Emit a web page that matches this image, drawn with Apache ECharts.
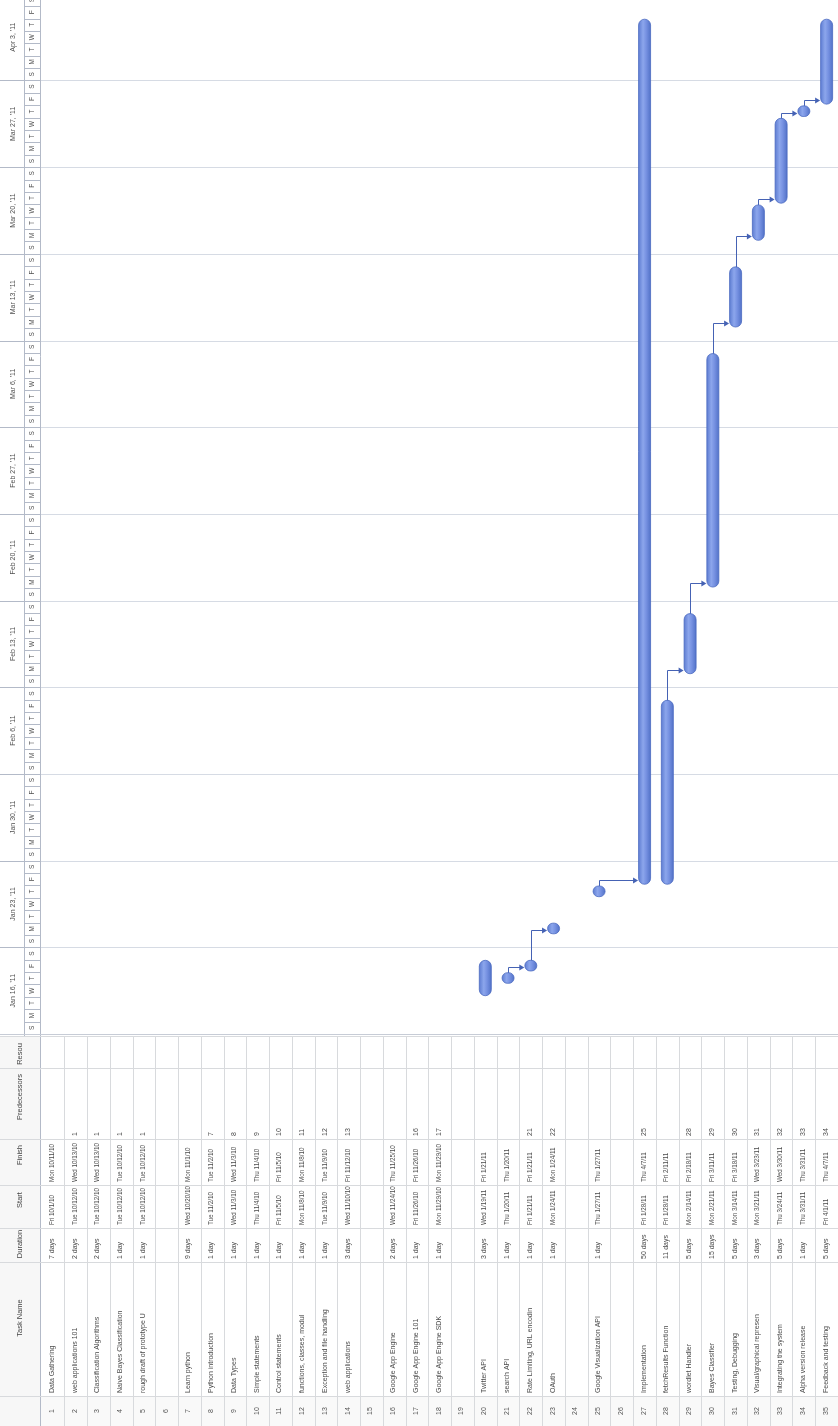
<!DOCTYPE html>
<html>
<head>
<meta charset="utf-8">
<script src="https://cdn.jsdelivr.net/npm/echarts@6/dist/echarts.min.js"></script>
<style>
  html, body { margin: 0; padding: 0; background: #ffffff; }
  #chart { width: 838px; height: 1426px; }
</style>
</head>
<body>
<div id="chart"></div>
<script>
// ---- Project schedule (one entry per task row) ----
const taskIds = [1,2,3,4,5,6,7,8,9,10,11,12,13,14,15,16,17,18,19,20,21,22,23,24,25,26,27,28,29,30,31,32,33,34,35];
const taskNames = [
  'Data Gathering', 'web applications 101', 'Classification Algorithms', 'Naive Bayes Classification', 'rough draft of prototype U', '',
  'Learn python', 'Python introduction', 'Data Types', 'Simple statements', 'Control statements', 'functions, classes, modul', 'Exception and file handling', 'web applications', '',
  'Google App Engine', 'Google App Engine 101', 'Google App Engine SDK', '',
  'Twitter API', 'search API', 'Rate Limiting, URL encodin', 'OAuth', '',
  'Google Visualization API', '',
  'Implementation', 'fetchResults Function', 'wordlet Handler', 'Bayes Classifier', 'Testing, Debugging', 'Visual/graphical represen', 'Integrating the system', 'Alpha version release', 'Feedback and testing'
];
const durations = [
  '7 days', '2 days', '2 days', '1 day', '1 day', '',
  '9 days', '1 day', '1 day', '1 day', '1 day', '1 day', '1 day', '3 days', '',
  '2 days', '1 day', '1 day', '',
  '3 days', '1 day', '1 day', '1 day', '',
  '1 day', '',
  '50 days', '11 days', '5 days', '15 days', '5 days', '3 days', '5 days', '1 day', '5 days'
];
const starts = [
  'Fri 10/1/10', 'Tue 10/12/10', 'Tue 10/12/10', 'Tue 10/12/10', 'Tue 10/12/10', '',
  'Wed 10/20/10', 'Tue 11/2/10', 'Wed 11/3/10', 'Thu 11/4/10', 'Fri 11/5/10', 'Mon 11/8/10', 'Tue 11/9/10', 'Wed 11/10/10', '',
  'Wed 11/24/10', 'Fri 11/26/10', 'Mon 11/29/10', '',
  'Wed 1/19/11', 'Thu 1/20/11', 'Fri 1/21/11', 'Mon 1/24/11', '',
  'Thu 1/27/11', '',
  'Fri 1/28/11', 'Fri 1/28/11', 'Mon 2/14/11', 'Mon 2/21/11', 'Mon 3/14/11', 'Mon 3/21/11', 'Thu 3/24/11', 'Thu 3/31/11', 'Fri 4/1/11'
];
const finishes = [
  'Mon 10/11/10', 'Wed 10/13/10', 'Wed 10/13/10', 'Tue 10/12/10', 'Tue 10/12/10', '',
  'Mon 11/1/10', 'Tue 11/2/10', 'Wed 11/3/10', 'Thu 11/4/10', 'Fri 11/5/10', 'Mon 11/8/10', 'Tue 11/9/10', 'Fri 11/12/10', '',
  'Thu 11/25/10', 'Fri 11/26/10', 'Mon 11/29/10', '',
  'Fri 1/21/11', 'Thu 1/20/11', 'Fri 1/21/11', 'Mon 1/24/11', '',
  'Thu 1/27/11', '',
  'Thu 4/7/11', 'Fri 2/11/11', 'Fri 2/18/11', 'Fri 3/11/11', 'Fri 3/18/11', 'Wed 3/23/11', 'Wed 3/30/11', 'Thu 3/31/11', 'Thu 4/7/11'
];
const predecessors = [
  '', '1', '1', '1', '1', '',
  '', '7', '8', '9', '10', '11', '12', '13', '',
  '', '16', '17', '',
  '', '', '21', '22', '',
  '', '',
  '25', '', '28', '29', '30', '31', '32', '33', '34'
];

// ---- Timescale ----
const weekLabels = ["Jan 16, '11", "Jan 23, '11", "Jan 30, '11", "Feb 6, '11", "Feb 13, '11", "Feb 20, '11",
                    "Feb 27, '11", "Mar 6, '11", "Mar 13, '11", "Mar 20, '11", "Mar 27, '11", "Apr 3, '11"];
const dayLetters = ['S', 'M', 'T', 'W', 'T', 'F', 'S'];
const columnHeaders = ['Task Name', 'Duration', 'Start', 'Finish', 'Predecessors', 'Resou'];

// ---- Layout ----
const FONT = '"Liberation Sans", Arial, sans-serif';
const TEXT = '#4a4a4a';
const LINE = '#d8dadd';
const HEADER_W = 40;          // header strip (timescale tiers / column titles)
const TIER_SPLIT = 24;        // boundary between week tier and day tier
const TABLE_TOP = 1036;
const TABLE_BOTTOM = 1426;
const CELL_FONT = 7;
const DATE_SQUEEZE = 0.9;     // dates are set slightly narrower so they fit their cells
// table columns along the page height: [top, bottom, title centre]
const COLS = {
  resource: [1036, 1068, 1054],
  pred:     [1068, 1139, 1097],
  finish:   [1139, 1185, 1155],
  start:    [1185, 1228, 1200],
  duration: [1228, 1262, 1244],
  name:     [1262, 1396, 1318],
  id:       [1396, 1426, 1411]
};

const DAY_MS = 86400000;
const ORIGIN = Date.UTC(2011, 0, 16);           // Sunday of the first visible week
const WORK_START = 8 / 24, WORK_END = 17 / 24;  // working day 8:00 - 17:00

function dayOffset(label) {
  const p = label.split(' ')[1].split('/');
  return (Date.UTC(2000 + Number(p[2]), Number(p[0]) - 1, Number(p[1])) - ORIGIN) / DAY_MS;
}

// bars: [row, startDay, finishDay]
const barData = [];
taskIds.forEach((id, i) => {
  if (!starts[i]) return;
  const s = dayOffset(starts[i]) + WORK_START;
  const f = dayOffset(finishes[i]) + WORK_END;
  if (s < 0) return;
  barData.push([id, s, f]);
});

// finish-to-start links: [predRow, predFinish, succRow, succStart]
const linkData = [];
predecessors.forEach((p, i) => {
  if (!p) return;
  const j = Number(p) - 1;
  if (dayOffset(starts[j]) < 0) return;
  linkData.push([taskIds[j], dayOffset(finishes[j]) + WORK_END, taskIds[i], dayOffset(starts[i]) + WORK_START]);
});

function vtext(x, y, str, align, size, color, squeeze) {
  return {
    type: 'text', x: x, y: y, rotation: Math.PI / 2, scaleX: squeeze || 1,
    style: { text: str, x: 0, y: 0, align: align, verticalAlign: 'middle',
             fontSize: size, fontFamily: FONT, fill: color || TEXT }
  };
}
function hline(x1, x2, y, color, w) {
  return { type: 'line', shape: { x1: x1, y1: y, x2: x2, y2: y }, style: { stroke: color || LINE, lineWidth: w || 1 } };
}
function vline(x, y1, y2, color, w) {
  return { type: 'line', shape: { x1: x, y1: y1, x2: x, y2: y2 }, style: { stroke: color || LINE, lineWidth: w || 1 } };
}

const chart = echarts.init(document.getElementById('chart'), null, { renderer: 'canvas' });

const BAR_FILL = {
  type: 'linear', x: 0, y: 0, x2: 1, y2: 0,
  colorStops: [
    { offset: 0, color: '#5b7ad0' },
    { offset: 0.38, color: '#8ca6ec' },
    { offset: 0.62, color: '#7792e2' },
    { offset: 1, color: '#5070c6' }
  ]
};

chart.setOption({
  animation: false,
  backgroundColor: '#ffffff',
  grid: { left: 41.6, top: 0, width: 799.75, height: 1034 },
  xAxis: { type: 'value', min: 0.5, max: 35.5, show: false },
  yAxis: { type: 'value', min: 0, max: 83.5, show: false },
  series: [
    // week grid lines across the chart area
    {
      type: 'custom', name: 'weekLines', z: 1, silent: true,
      data: weekLabels.map((w, k) => [k]),
      renderItem: function (params, api) {
        const y = Math.round(api.coord([1, api.value(0) * 7])[1]) + 0.5;
        return hline(HEADER_W, 838, y, '#d6dbe4', 1);
      }
    },
    // timescale header: week tier and day tier
    {
      type: 'custom', name: 'timescale', z: 2, silent: true,
      data: weekLabels.map((w, k) => [k]),
      renderItem: function (params, api) {
        const k = api.value(0);
        const y0 = api.coord([1, k * 7])[1];
        const y1 = api.coord([1, k * 7 + 7])[1];
        const children = [
          hline(0, HEADER_W, Math.round(y0) + 0.5, '#b3bac8', 1),
          vtext(TIER_SPLIT / 2 + 1, (y0 + y1) / 2, weekLabels[k], 'center', 7, '#505050')
        ];
        for (let d = 0; d < 7; d++) {
          const a = api.coord([1, k * 7 + d])[1];
          const b = api.coord([1, k * 7 + d + 1])[1];
          if (d > 0) children.push(hline(TIER_SPLIT, HEADER_W, Math.round(a) + 0.5, '#b3bac8', 1));
          children.push(vtext((TIER_SPLIT + HEADER_W) / 2 + 0.5, (a + b) / 2, dayLetters[d], 'center', 6.5, '#505050'));
        }
        return { type: 'group', children: children };
      }
    },
    // header strip and table frame
    {
      type: 'custom', name: 'frame', z: 3, silent: true,
      data: [[0]],
      renderItem: function (params, api) {
        const top = api.coord([1, 83.5])[1];
        const children = [
          { type: 'rect', shape: { x: 0, y: TABLE_TOP, width: HEADER_W, height: TABLE_BOTTOM - TABLE_TOP }, style: { fill: '#f7f7f7' } },
          { type: 'rect', shape: { x: HEADER_W, y: COLS.id[0], width: 838 - HEADER_W, height: COLS.id[1] - COLS.id[0] }, style: { fill: '#f9f9f9' } },
          vline(TIER_SPLIT + 0.5, top, TABLE_TOP, '#b3bac8', 1),
          vline(HEADER_W + 0.5, top, TABLE_BOTTOM, '#b3bac8', 1)
        ];
        const order = ['name', 'duration', 'start', 'finish', 'pred', 'resource'];
        order.forEach((key, i) => {
          children.push(vtext(HEADER_W / 2, COLS[key][2], columnHeaders[i], 'center', 7.5, '#454545'));
        });
        Object.keys(COLS).forEach(key => {
          children.push(hline(0, 838, COLS[key][0] + 0.5, LINE, 1));
        });
        children.push(hline(0, 838, TABLE_TOP - 1.5, '#c7ccd6', 1));
        return { type: 'group', children: children };
      }
    },
    // table rows
    {
      type: 'custom', name: 'table', z: 4, silent: true,
      data: taskIds.map(id => [id]),
      renderItem: function (params, api) {
        const row = api.value(0);
        const i = row - 1;
        const x = api.coord([row, 0])[0] - 1;
        const edge = Math.round(api.coord([row + 0.5, 0])[0]) + 0.5;
        const pad = 3;
        const children = [
          vline(edge, TABLE_TOP, TABLE_BOTTOM, LINE, 1),
          vtext(x, COLS.id[2], String(row), 'center', CELL_FONT, '#555555')
        ];
        if (taskNames[i]) children.push(vtext(x, COLS.name[1] - pad, taskNames[i], 'left', CELL_FONT));
        if (durations[i]) children.push(vtext(x, COLS.duration[1] - pad, durations[i], 'left', CELL_FONT));
        if (starts[i]) children.push(vtext(x, COLS.start[1] - pad, starts[i], 'left', CELL_FONT, null, DATE_SQUEEZE));
        if (finishes[i]) children.push(vtext(x, COLS.finish[1] - pad, finishes[i], 'left', CELL_FONT, null, DATE_SQUEEZE));
        if (predecessors[i]) children.push(vtext(x, COLS.pred[1] - pad, predecessors[i], 'left', CELL_FONT));
        return { type: 'group', children: children };
      }
    },
    // dependency links
    {
      type: 'custom', name: 'links', z: 5, silent: true,
      data: linkData,
      renderItem: function (params, api) {
        const a = api.coord([api.value(0), api.value(1)]);
        const b = api.coord([api.value(2), api.value(3)]);
        const tipX = b[0] - 6.5;
        const yy = Math.round(b[1] - 1) + 0.5;
        const x0 = Math.round(a[0]) + 0.5;
        return {
          type: 'group',
          children: [
            { type: 'polyline', shape: { points: [[x0, a[1] - 2], [x0, yy], [tipX - 4, yy]] },
              style: { stroke: '#4562b4', lineWidth: 1, fill: null } },
            { type: 'polygon', shape: { points: [[tipX, yy], [tipX - 5, yy - 3], [tipX - 5, yy + 3]] },
              style: { fill: '#4562b4' } }
          ]
        };
      }
    },
    // task bars
    {
      type: 'custom', name: 'bars', z: 6, silent: true,
      data: barData,
      renderItem: function (params, api) {
        const a = api.coord([api.value(0), api.value(1)]);
        const b = api.coord([api.value(0), api.value(2)]);
        const w = 12, cap = 3;
        const h = a[1] - b[1] + 2 * cap;
        return {
          type: 'rect',
          shape: { x: a[0] - w / 2, y: b[1] - cap, width: w, height: h, r: Math.min(w, h) / 2 },
          style: { fill: BAR_FILL, stroke: '#4a69c0', lineWidth: 0.8 }
        };
      }
    }
  ]
});
</script>
</body>
</html>
